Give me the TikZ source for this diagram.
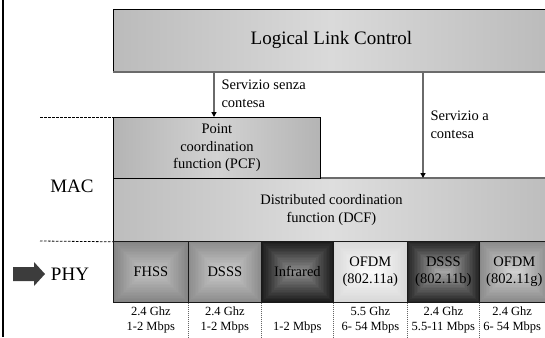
\documentclass[tikz,border=0pt]{standalone}
\usepackage{fontspec}
\setmainfont{Liberation Serif}
\usetikzlibrary{calc,arrows.meta}

% layer box greys
\definecolor{llcside}{HTML}{BBBBBB}
\definecolor{llcmid}{HTML}{DADADA}
\definecolor{pcfside}{HTML}{B4B4B4}
\definecolor{pcfmid}{HTML}{D2D2D2}
\definecolor{dcfside}{HTML}{BDBDBD}
\definecolor{dcfmid}{HTML}{DEDEDE}
\definecolor{shadowc}{HTML}{6B6B6B}
\definecolor{connc}{HTML}{6A6A6A}
\definecolor{arrowc}{HTML}{3C3C3C}
% physical layer bevel greys (outer / inner)
\definecolor{fhssout}{HTML}{858585}
\definecolor{fhssin}{HTML}{C2C2C2}
\definecolor{dsssout}{HTML}{8C8C8C}
\definecolor{dsssin}{HTML}{CACACA}
\definecolor{irout}{HTML}{1C1C1C}
\definecolor{irin}{HTML}{8C8C8C}
\definecolor{ofaout}{HTML}{D8D8D8}
\definecolor{ofain}{HTML}{FAFAFA}
\definecolor{dsbout}{HTML}{262626}
\definecolor{dsbin}{HTML}{A4A4A4}
\definecolor{ofgout}{HTML}{8A8A8A}
\definecolor{ofgin}{HTML}{D0D0D0}

\tikzset{
  txtbig/.style={font=\fontsize{19}{22}\selectfont},
  txtmid/.style={font=\fontsize{14.5}{17.5}\selectfont},
  txtsmall/.style={font=\fontsize{12.5}{15}\selectfont},
  layerbox/.style 2 args={draw=black, line width=0.8pt, inner sep=0pt,
    anchor=north west, align=center, txtmid,
    left color=#1, right color=#1, middle color=#2},
  shadowline/.style={draw=shadowc, line width=2pt},
  phybox/.style 2 args={draw=black!90, line width=0.7pt, inner sep=0pt,
    anchor=north west, minimum height=61pt, align=center, txtmid,
    path picture={
      \foreach \k in {0,...,19}{
        \pgfmathsetmacro\mixv{\k/19*100}
        \fill[#2!\mixv!#1]
          ($(path picture bounding box.south west)+(\k*1.55pt,\k*1.55pt)$)
          rectangle
          ($(path picture bounding box.north east)-(\k*1.55pt,\k*1.55pt)$);
      }}},
  feed/.style={draw=connc, line width=1.6pt,
    -{Triangle[length=5pt,width=5pt,color=black]}},
  sepline/.style={draw=black, line width=0.8pt, dash pattern=on 2.5pt off 1.5pt},
  colsep/.style={draw=black!60, line width=0.6pt, dash pattern=on 1pt off 1pt},
}

\begin{document}
\begin{tikzpicture}[x=1pt, y=-1pt]
\useasboundingbox (0,0) rectangle (545,337);
\clip (0,0) rectangle (545,337);

% left margin rule
\draw[line width=2pt] (3,0) -- (3,337);

% logical link control
\node[layerbox={llcside}{llcmid}, minimum width=436pt, minimum height=62pt,
      txtbig] (llc) at (113,9) {Logical Link Control};
\draw[shadowline] (llc.south west) -- (llc.south east);

% MAC sub-layers
\node[layerbox={pcfside}{pcfmid}, minimum width=207pt, minimum height=61pt]
      (pcf) at (113,117) {Point\\coordination\\function (PCF)};
\node[layerbox={dcfside}{dcfmid}, minimum width=436pt, minimum height=63pt]
      (dcf) at (113,178) {Distributed coordination\\function (DCF)};
\draw[shadowline] (pcf.north east |- dcf.north) -- (dcf.north east);
\draw[black, line width=0.8pt] (pcf.south west) -- (pcf.south east);

% service access arrows
\coordinate (c1) at (214,0);
\coordinate (c2) at (423,0);
\draw[feed] (llc.south -| c1) -- (pcf.north -| c1);
\draw[feed] (llc.south -| c2) -- (dcf.north -| c2);
\node[txtmid, anchor=west, align=left] (lab1) at (218,94)
      {Servizio senza\\contesa};
\node[txtmid, anchor=west, align=left] (lab2) at (427,125)
      {Servizio a\\contesa};

% physical layers
\node[phybox={fhssout}{fhssin}, minimum width=75pt] (p1) at (113,241) {FHSS};
\node[phybox={dsssout}{dsssin}, minimum width=73pt] (p2) at (188,241) {DSSS};
\node[phybox={irout}{irin}, minimum width=72pt] (p3) at (261,241) {Infrared};
\node[phybox={ofaout}{ofain}, minimum width=74pt] (p4) at (333,241) {OFDM\\(802.11a)};
\node[phybox={dsbout}{dsbin}, minimum width=72pt] (p5) at (407,241) {DSSS\\(802.11b)};
\node[phybox={ofgout}{ofgin}, minimum width=70pt] (p6) at (479,241) {OFDM\\(802.11g)};

% layer boundaries
\coordinate (d1) at (40,117);
\coordinate (d2) at (40,241);
\draw[sepline] (d1) -- (pcf.north west);
\draw[sepline] (d2) -- (dcf.south west);

% layer names
\node[txtbig] (mac) at (72,186) {MAC};
\node[txtbig] (phy) at (70,274) {PHY};
\fill[arrowc] (13,267) -- (34,267) -- (34,262) -- (45,274) -- (34,286)
      -- (34,281) -- (13,281) -- cycle;

% column separators below the physical layers
\coordinate (bot) at (0,337);
\foreach \n in {p1,p2,p3,p4,p5}
  \draw[colsep] (\n.south east) -- (\n.south east |- bot);

% frequency band and data rate
\coordinate (r2) at (0,320);
\coordinate (r1) at (0,327.5);
\coordinate (p6c) at ($(p6.south west)!0.47!(p6.south east)$);
\node[txtsmall, align=center] (f1) at (p1.south |- r2) {2.4 Ghz\\1-2 Mbps};
\node[txtsmall, align=center] (f2) at (p2.south |- r2) {2.4 Ghz\\1-2 Mbps};
\node[txtsmall, align=center] (f3) at (p3.south |- r1) {1-2 Mbps};
\node[txtsmall, align=center] (f4) at (p4.south |- r2) {5.5 Ghz\\6- 54 Mbps};
\node[txtsmall, align=center] (f5) at (p5.south |- r2) {2.4 Ghz\\5.5-11 Mbps};
\node[txtsmall, align=center] (f6) at (p6c |- r2) {2.4 Ghz\\6- 54 Mbps};
\end{tikzpicture}
\end{document}
